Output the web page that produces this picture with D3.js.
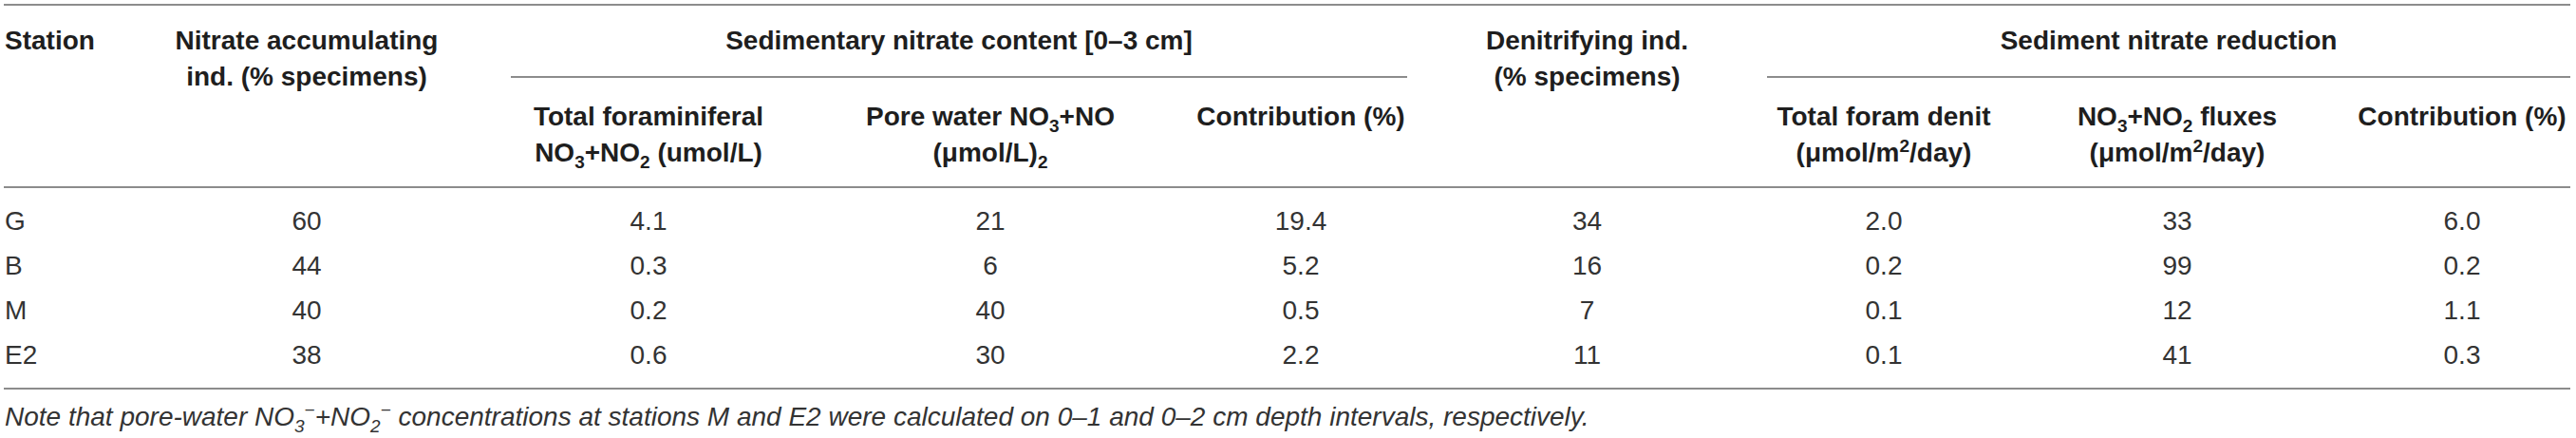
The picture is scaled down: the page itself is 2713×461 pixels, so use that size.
<!DOCTYPE html>
<html>
<head>
<meta charset="utf-8">
<script src="https://cdn.jsdelivr.net/npm/d3@7"></script>
<style>
  body { margin: 0; background: #fff; }
  svg text { font-family: "Liberation Sans", Arial, Helvetica, sans-serif; }
</style>
</head>
<body>
<div id="holder"></div>
<script>
// table values
const stations = ["G", "B", "M", "E2"];
const nitrateAccum = [60, 44, 40, 38];
const totalForamNO = [4.1, 0.3, 0.2, 0.6];
const poreWaterNO = [21, 6, 40, 30];
const contribSed = [19.4, 5.2, 0.5, 2.2];
const denitInd = [34, 16, 7, 11];
const foramDenit = [2.0, 0.2, 0.1, 0.1];
const fluxesNO = [33, 99, 12, 41];
const contribRed = [6.0, 0.2, 1.1, 0.3];

const series = [nitrateAccum, totalForamNO, poreWaterNO, contribSed, denitInd, foramDenit, fluxesNO, contribRed];
const formats = ["d", ".1f", "d", ".1f", "d", ".1f", "d", ".1f"];

// header text, line by line, [text, sub|sup]
const colHeads = [
  [[["Station"]]],
  [[["Nitrate accumulating"]], [["ind. (% specimens)"]]],
  [[["Total foraminiferal"]], [["NO"], ["3", "sub"], ["+NO"], ["2", "sub"], [" (umol/L)"]]],
  [[["Pore water NO"], ["3", "sub"], ["+NO"]], [["(\u03bcmol/L)"], ["2", "sub"]]],
  [[["Contribution (%)"]]],
  [[["Denitrifying ind."]], [["(% specimens)"]]],
  [[["Total foram denit"]], [["(\u03bcmol/m"], ["2", "sup"], ["/day)"]]],
  [[["NO"], ["3", "sub"], ["+NO"], ["2", "sub"], [" fluxes"]], [["(\u03bcmol/m"], ["2", "sup"], ["/day)"]]],
  [[["Contribution (%)"]]]
];
const groupHeads = [
  {label: "Sedimentary nitrate content [0\u20133 cm]", from: 2, to: 4},
  {label: "Sediment nitrate reduction", from: 6, to: 8}
];
const topCols = [0, 1, 5];
const note = [["Note that pore-water NO"], ["3", "sub"], ["\u2212", "sup"], ["+NO"], ["2", "sub"], ["\u2212", "sup"],
  [" concentrations at stations M and E2 were calculated on 0\u20131 and 0\u20132 cm depth intervals, respectively."]];

const W = 2713, H = 461;
const colW = [108, 430, 290, 430, 224, 379, 246, 372, 228];
const edges = [0, ...d3.cumsum(colW)];
const xLeft = d3.scaleOrdinal().domain(d3.range(colW.length)).range(edges.slice(0, -1));
const xMid = d3.scaleOrdinal().domain(d3.range(colW.length)).range(colW.map((w, i) => edges[i] + w / 2));
const y = d3.scalePoint().domain(stations).range([242, 383]);

const svg = d3.select("#holder").append("svg").attr("width", W).attr("height", H);

const ruleColor = "#8c8c8c";
function rule(x1, x2, yy) {
  svg.append("line").attr("x1", x1).attr("x2", x2).attr("y1", yy).attr("y2", yy)
    .attr("stroke", ruleColor).attr("stroke-width", 2);
}

function rich(t, segs, small) {
  let off = 0;
  segs.forEach(([txt, k]) => {
    const target = k === "sub" ? 7 : k === "sup" ? -10 : 0;
    const ts = t.append("tspan").attr("dy", target - off).text(txt);
    if (k) ts.attr("font-size", small);
    off = target;
  });
}

// rules
rule(4, edges[edges.length - 1], 5);
groupHeads.forEach(g => rule(edges[g.from], edges[g.to + 1], 81));
rule(4, edges[edges.length - 1], 197);
rule(4, edges[edges.length - 1], 409);

// group headers
svg.selectAll(".group").data(groupHeads).join("text")
  .attr("class", "group")
  .attr("x", d => (edges[d.from] + edges[d.to + 1]) / 2)
  .attr("y", 52)
  .attr("text-anchor", "middle")
  .attr("font-size", 28).attr("font-weight", "bold").attr("fill", "#1e1e1e")
  .text(d => d.label);

// column headers
colHeads.forEach((lines, i) => {
  const y0 = topCols.includes(i) ? 52 : 132;
  lines.forEach((segs, j) => {
    const t = svg.append("text")
      .attr("x", i === 0 ? 5 : xMid(i))
      .attr("y", y0 + j * 38)
      .attr("text-anchor", i === 0 ? "start" : "middle")
      .attr("font-size", 28).attr("font-weight", "bold").attr("fill", "#1e1e1e");
    rich(t, segs, 19);
  });
});

// body
svg.selectAll(".station").data(stations).join("text")
  .attr("class", "station")
  .attr("x", 5).attr("y", d => y(d))
  .attr("font-size", 28).attr("fill", "#333")
  .text(d => d);

series.forEach((vals, k) => {
  const f = d3.format(formats[k]);
  svg.selectAll(".c" + k).data(vals).join("text")
    .attr("class", "c" + k)
    .attr("x", xMid(k + 1))
    .attr("y", (d, i) => y(stations[i]))
    .attr("text-anchor", "middle")
    .attr("font-size", 28).attr("fill", "#333")
    .text(d => f(d));
});

// footnote
const nt = svg.append("text").attr("x", 5).attr("y", 448)
  .attr("font-size", 28).attr("font-style", "italic").attr("fill", "#333");
rich(nt, note, 19);
</script>
</body>
</html>
